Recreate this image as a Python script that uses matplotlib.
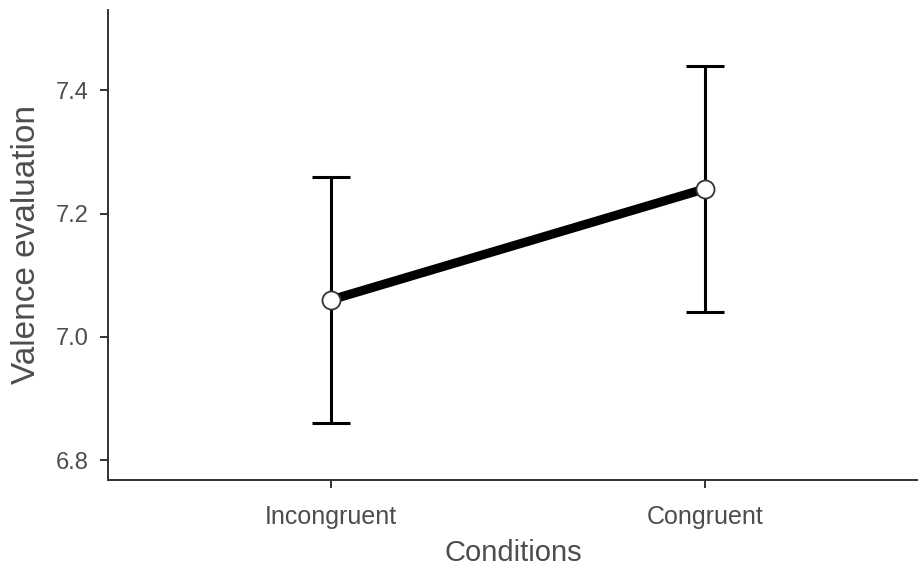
import matplotlib
matplotlib.use("Agg")
import matplotlib.pyplot as plt

conditions = ["Incongruent", "Congruent"]
means = [7.06, 7.24]
ci_low = [6.86, 7.04]
ci_high = [7.26, 7.44]

plt.rcParams["font.family"] = ["Liberation Sans", "DejaVu Sans"]

fig = plt.figure(figsize=(9.18, 5.75), dpi=100)
ax = fig.add_axes([108 / 918, 1 - 480 / 575, 1 - 108 / 918, 470 / 575])

x = [1, 2]
yerr = [[m - lo for m, lo in zip(means, ci_low)],
        [hi - m for m, hi in zip(means, ci_high)]]

ax.errorbar(x, means, yerr=yerr, fmt="none", ecolor="black",
            elinewidth=2.2, capsize=13.5, capthick=2.2, zorder=2)
ax.plot(x, means, color="black", linewidth=6.5, solid_capstyle="butt", zorder=3)
ax.plot(x, means, linestyle="none", marker="o", markersize=13,
        markerfacecolor="white", markeredgecolor="#333333",
        markeredgewidth=1.3, zorder=4)

ax.set_xlim(0.404, 2.57)
ax.set_ylim(6.768, 7.53)
ax.set_xticks(x)
ax.set_xticklabels(conditions)
ax.set_yticks([6.8, 7.0, 7.2, 7.4])
ax.set_yticklabels(["6.8", "7.0", "7.2", "7.4"])

for side in ("top", "right"):
    ax.spines[side].set_visible(False)
for side in ("left", "bottom"):
    ax.spines[side].set_color("#333333")
    ax.spines[side].set_linewidth(1.4)

ax.tick_params(axis="both", colors="#333333", width=1.4, length=6,
               labelcolor="#4d4d4d")
ax.tick_params(axis="x", labelsize=18, pad=12)
ax.tick_params(axis="y", labelsize=17, pad=8)

ax.set_xlabel("Conditions", fontsize=21, color="#4d4d4d", labelpad=7)
ax.set_ylabel("Valence evaluation", fontsize=24, color="#4d4d4d", labelpad=10)

fig.savefig("out.png", dpi=100)
